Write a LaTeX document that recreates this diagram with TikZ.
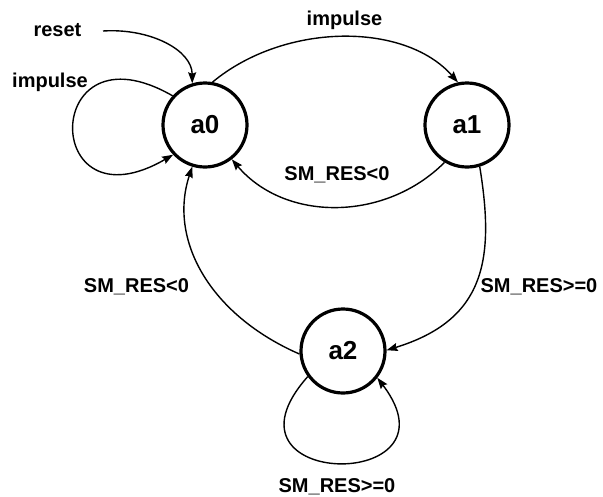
\documentclass[tikz,border=0pt]{standalone}
\usepackage{fontspec}
\setmainfont{Liberation Sans}
\usetikzlibrary{arrows.meta}
\begin{document}
\begin{tikzpicture}[x=1pt,y=-1pt,
  state/.style={circle,draw,line width=3.2pt,minimum size=84pt,inner sep=0pt,
    font=\fontsize{26}{30}\selectfont\bfseries},
  lbl/.style={anchor=base,inner sep=0pt,font=\fontsize{20}{24}\selectfont\bfseries},
  edge/.style={line width=1.4pt,-{Stealth[length=11pt,width=8pt,inset=1.5pt]}}]
\path[use as bounding box] (0,0) rectangle (603,496);
\node[state] (a0) at (205,125) {a0};
\node[state] (a1) at (467,125) {a1};
\node[state] (a2) at (343,351) {a2};
\coordinate (r) at (103,31);
% labels
\node[lbl] (lreset) at (57.5,36) {reset};
\node[lbl] (limp0) at (50,87) {impulse};
\node[lbl] (limp1) at (344.5,25) {impulse};
\node[lbl] (l10) at (337,180) {SM\_RES<0};
\node[lbl] (l20) at (136.5,292) {SM\_RES<0};
\node[lbl] (l12) at (539,292) {SM\_RES>=0};
\node[lbl] (l22) at (337,492) {SM\_RES>=0};
% edges
\draw[edge] (r) .. controls (150,28) and (192,50) .. (a0.107);
\draw[edge] (a0.138) .. controls (41,20) and (40,232) .. (a0.223);
\draw[edge] (a0.80) .. controls (285,22) and (405,22) .. (a1.102);
\draw[edge] (a1.239) .. controls (385,222) and (285,222) .. (a0.308);
\draw[edge] (a1.287) .. controls (495,260) and (485,320) .. (a2.1);
\draw[edge] (a2.184) .. controls (210,315) and (168,240) .. (a0.253);
\draw[edge] (a2.216) .. controls (207,490) and (465,493) .. (a2.322);
\end{tikzpicture}
\end{document}
